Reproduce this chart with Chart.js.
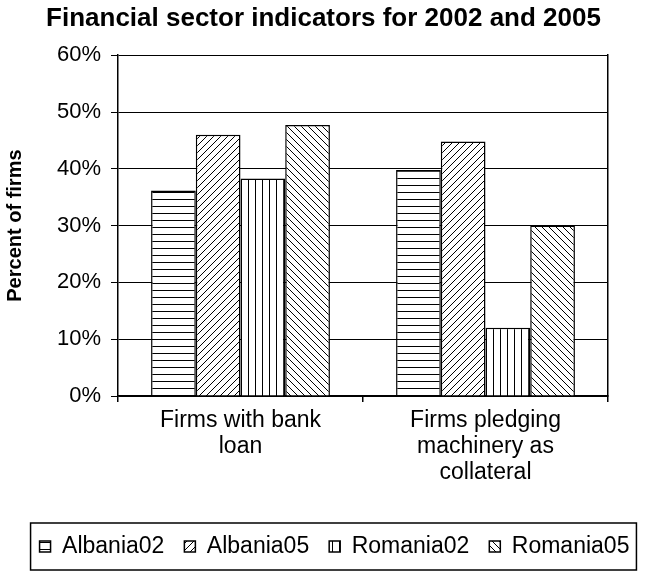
<!DOCTYPE html>
<html>
<head>
<meta charset="utf-8">
<title>Financial sector indicators for 2002 and 2005</title>
<script src="https://cdn.jsdelivr.net/npm/chart.js@4/dist/chart.umd.min.js"></script>
<style>
  html, body { margin: 0; padding: 0; background: #fff; }
  #wrap { width: 647px; height: 573px; position: relative; }
</style>
</head>
<body>
<div id="wrap"><canvas id="grafico"></canvas></div>
<script>
// categorias e valores (percentual de empresas)
const categorias = [["Firms with bank", "loan"], ["Firms pledging", "machinery as", "collateral"]];
const albania02 = [36.2, 39.8];
const albania05 = [46.0, 44.8];
const romania02 = [38.3, 12.0];
const romania05 = [47.7, 30.0];
const ticksY = [0, 10, 20, 30, 40, 50, 60];

const fonte = "Arial, 'Liberation Sans', sans-serif";
const canvas = document.getElementById("grafico");
const ctx = canvas.getContext("2d");

// hachuras em preto e branco para as barras
function hachura(tipo) {
  const s = 7;
  const c = document.createElement("canvas");
  c.width = s; c.height = s;
  const g = c.getContext("2d");
  g.fillStyle = "#fff";
  g.fillRect(0, 0, s, s);
  g.strokeStyle = "#000";
  g.lineWidth = 1;
  g.beginPath();
  if (tipo === "h") {
    g.moveTo(0, 3.5); g.lineTo(s, 3.5);
  } else if (tipo === "v") {
    g.moveTo(3.5, 0); g.lineTo(3.5, s);
  } else if (tipo === "sobe") {
    g.moveTo(-1, s + 1); g.lineTo(s + 1, -1);
    g.moveTo(-1, 1); g.lineTo(1, -1);
    g.moveTo(s - 1, s + 1); g.lineTo(s + 1, s - 1);
  } else {
    g.moveTo(-1, -1); g.lineTo(s + 1, s + 1);
    g.moveTo(s - 1, -1); g.lineTo(s + 1, 1);
    g.moveTo(-1, s - 1); g.lineTo(1, s + 1);
  }
  g.stroke();
  return ctx.createPattern(c, "repeat");
}

function serie(nome, dados, padrao) {
  return {
    label: nome,
    data: dados,
    backgroundColor: hachura(padrao),
    borderColor: "#000",
    borderWidth: 1.5,
    barPercentage: 1,
    categoryPercentage: 0.73,
  };
}

// legenda um pouco deslocada para a direita, com moldura
const molduraLegenda = {
  id: "molduraLegenda",
  afterLayout(chart) {
    chart.legend.left += 11;
    chart.legend.right += 11;
  },
  afterDraw(chart) {
    const caixas = chart.legend.legendHitBoxes;
    if (!caixas || !caixas.length) return;
    const ult = caixas[caixas.length - 1];
    const x0 = caixas[0].left - 9;
    const x1 = ult.left + ult.width + 7;
    const y0 = caixas[0].top - 12;
    const y1 = caixas[0].top + caixas[0].height + 12;
    const c = chart.ctx;
    c.save();
    c.strokeStyle = "#000";
    c.lineWidth = 1.5;
    c.strokeRect(x0, y0, x1 - x0, y1 - y0);
    c.restore();
  }
};

new Chart(ctx, {
  type: "bar",
  data: {
    labels: categorias,
    datasets: [
      serie("Albania02", albania02, "h"),
      serie("Albania05", albania05, "sobe"),
      serie("Romania02", romania02, "v"),
      serie("Romania05", romania05, "desce"),
    ],
  },
  options: {
    responsive: true,
    maintainAspectRatio: false,
    animation: false,
    layout: { padding: { left: 0, right: 0, top: 0, bottom: 5 } },
    plugins: {
      title: {
        display: true,
        text: "Financial sector indicators for 2002 and 2005",
        color: "#000",
        font: { family: fonte, size: 26, weight: "bold" },
        padding: { top: 3, bottom: 21 },
      },
      legend: {
        position: "bottom",
        labels: {
          color: "#000",
          font: { family: fonte, size: 23 },
          boxWidth: 11,
          boxHeight: 11,
          padding: 20,
        },
      },
      tooltip: { enabled: false },
    },
    scales: {
      x: {
        type: "category",
        grid: { drawOnChartArea: false, drawTicks: true, tickLength: 6, color: "#000", lineWidth: 1.5 },
        border: { display: true, color: "#000", width: 1.5 },
        ticks: {
          color: "#000",
          font: { family: fonte, size: 23, lineHeight: 26 / 23 },
          padding: 6,
          maxRotation: 0,
          autoSkip: false,
        },
        afterFit(scale) { scale.height = 119; },
      },
      y: {
        min: 0,
        max: 60,
        grid: { color: "#000", lineWidth: 1, tickLength: 7 },
        border: { display: true, color: "#000", width: 1.5 },
        afterBuildTicks(scale) { scale.ticks = ticksY.map(v => ({ value: v })); },
        ticks: {
          color: "#000",
          font: { family: fonte, size: 22 },
          padding: 10,
          callback: v => v + "%",
        },
        title: {
          display: true,
          text: "Percent of firms",
          color: "#000",
          font: { family: fonte, size: 20, weight: "bold" },
          padding: { top: 3, bottom: 0 },
        },
        afterFit(scale) { scale.width = 118; },
      },
      // eixo vazio só para fechar a área do gráfico à direita
      direita: {
        position: "right",
        grid: { display: false },
        ticks: { display: false },
        border: { display: true, color: "#000", width: 1.5 },
        afterFit(scale) { scale.width = 39; },
      },
    },
  },
  plugins: [molduraLegenda],
});
</script>
</body>
</html>
